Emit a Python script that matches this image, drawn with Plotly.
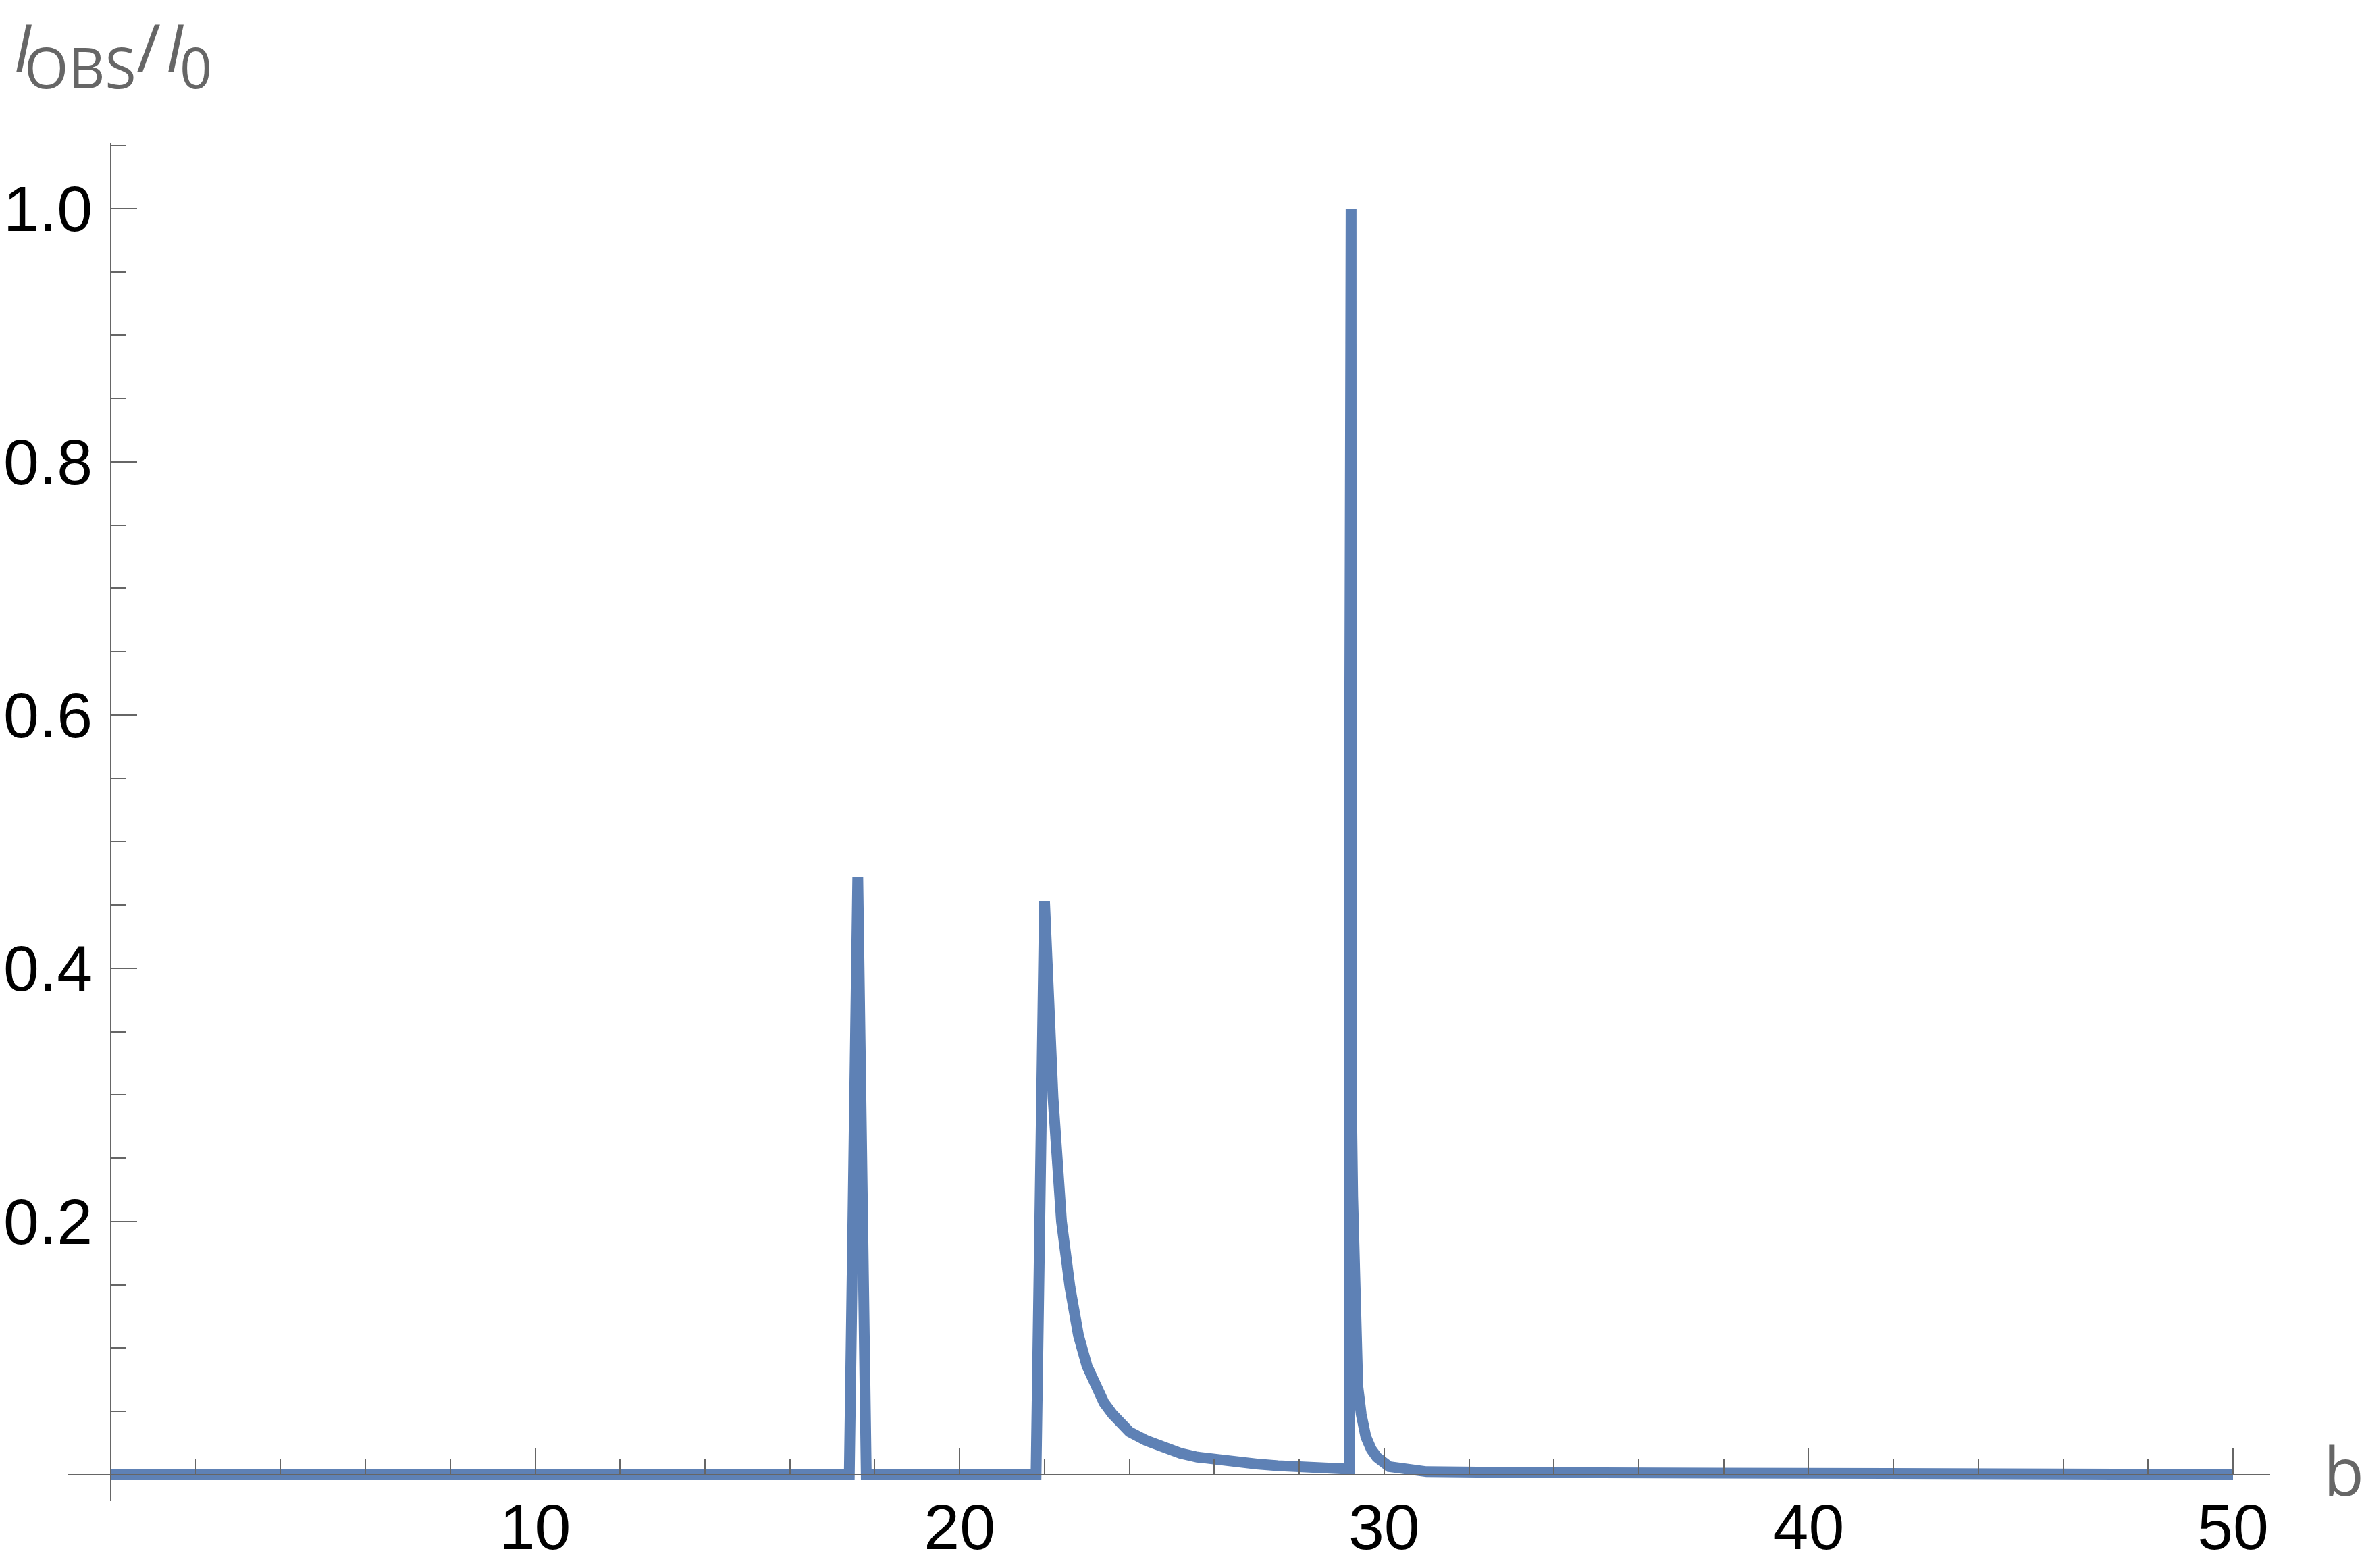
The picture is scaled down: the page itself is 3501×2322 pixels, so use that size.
import plotly.graph_objects as go

# ---- data ----
b_values = [0, 17.4, 17.6, 17.8, 21.8, 22.0, 22.2, 22.4, 22.6, 22.8, 23.0, 23.2, 23.4,
            23.6, 23.8, 24.0, 24.4, 24.8, 25.2, 25.6, 26.0, 26.5, 27.0, 27.5, 28.0,
            28.5, 29.0, 29.19, 29.19, 29.222, 29.228, 29.26, 29.29, 29.33, 29.38,
            29.46, 29.57, 29.7, 29.83, 30.12, 30.5, 31.0, 33.0, 36.0, 40.0, 45.0, 50.0]
ratio_values = [0, 0, 0.472, 0, 0, 0.453, 0.298, 0.200, 0.148, 0.110, 0.086, 0.070, 0.057,
                0.048, 0.040, 0.034, 0.027, 0.021, 0.017, 0.014, 0.012, 0.010, 0.0085, 0.0072, 0.0062,
                0.0055, 0.0048, 0.0045, 0.60, 1.0, 0.30, 0.22, 0.15, 0.10, 0.07,
                0.048, 0.030, 0.020, 0.014, 0.0065, 0.004, 0.0025, 0.0018, 0.0013, 0.0009, 0.0005, 0.0003]

x_tick_vals = [10, 20, 30, 40, 50]
x_tick_text = ["10", "20", "30", "40", "50"]
y_tick_vals = [0.2, 0.4, 0.6, 0.8, 1.0]
y_tick_text = ["0.2", "0.4", "0.6", "0.8", "1.0"]

# ---- layout geometry ----
W, H = 3501, 2322
L, R, T, B = 100, 139, 212, 99
PW, PH = W - L - R, H - T - B
x_range = [-1.018, 50.875]
y_range = [-0.0208, 1.0517]
x_zero_frac = (0 - x_range[0]) / (x_range[1] - x_range[0])
y_zero_frac = (0 - y_range[0]) / (y_range[1] - y_range[0])

def px(xp):
    return (xp - L) / PW

def py(yp):
    return (H - B - yp) / PH

AX = "#666666"
LINE = "#5E81B5"
TICKFONT = dict(family="Liberation Sans, Arial, sans-serif", size=95, color="black")
LABFONT = "Open Sans, Noto Sans, sans-serif"

fig = go.Figure()
fig.add_trace(go.Scatter(x=b_values, y=ratio_values, mode="lines",
                         line=dict(color=LINE, width=16), showlegend=False,
                         hoverinfo="skip"))

fig.update_layout(
    template="none",
    width=W, height=H,
    margin=dict(l=L, r=R, t=T, b=B, autoexpand=False),
    paper_bgcolor="white", plot_bgcolor="white",
    xaxis=dict(range=x_range, anchor="free", position=y_zero_frac, automargin=False,
               showgrid=False, zeroline=False, showline=True,
               linecolor=AX, linewidth=2,
               tickmode="array", tickvals=x_tick_vals, ticktext=x_tick_text,
               ticks="inside", ticklen=38, tickwidth=2, tickcolor=AX,
               tickfont=TICKFONT, ticklabelstandoff=-5,
               minor=dict(dtick=2, tick0=0, ticks="inside", ticklen=22,
                          tickwidth=1.5, tickcolor=AX, showgrid=False)),
    yaxis=dict(range=y_range, anchor="free", position=x_zero_frac, automargin=False,
               showgrid=False, zeroline=False, showline=True,
               linecolor=AX, linewidth=2,
               tickmode="array", tickvals=y_tick_vals, ticktext=y_tick_text,
               ticks="inside", ticklen=38, tickwidth=2, tickcolor=AX,
               tickfont=TICKFONT, ticklabelstandoff=7,
               minor=dict(dtick=0.05, tick0=0, ticks="inside", ticklen=22,
                          tickwidth=1.5, tickcolor=AX, showgrid=False)),
)

# axis labels
label_parts = [
    ("<i>I</i>", 98, 33.5, 69),
    ("OBS", 84, 118.5, 98),
    ("/", 98, 219.5, 69),
    ("<i>I</i>", 98, 258.5, 69),
    ("0", 84, 289.5, 98),
]
for txt, size, xp, yp in label_parts:
    fig.add_annotation(text=txt, xref="paper", yref="paper", x=px(xp), y=py(yp),
                       xanchor="center", yanchor="middle", showarrow=False,
                       font=dict(family=LABFONT, size=size, color=AX))

fig.add_annotation(text="b", xref="paper", yref="paper", x=px(3471), y=py(2177),
                   xanchor="center", yanchor="middle", showarrow=False,
                   font=dict(family=LABFONT, size=98, color=AX))

fig.write_html("out.html", config={"displayModeBar": False},
               post_script="document.body.style.margin='0';document.body.style.overflow='hidden';")
